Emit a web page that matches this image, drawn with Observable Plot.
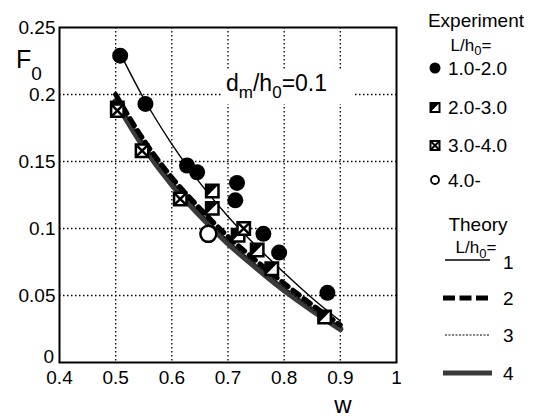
<!DOCTYPE html>
<html><head><meta charset="utf-8">
<script src="https://cdn.jsdelivr.net/npm/d3@7"></script>
<script src="https://cdn.jsdelivr.net/npm/@observablehq/plot@0.6"></script>
<style>body{margin:0;background:#fff;} svg{display:block;}</style>
</head><body><div id="chart"></div>
<script>
// ---- tick values / labels
const xTicks = [0.4, 0.5, 0.6, 0.7, 0.8, 0.9, 1];
const xTickLabels = ["0.4", "0.5", "0.6", "0.7", "0.8", "0.9", "1"];
const yTicks = [0, 0.05, 0.1, 0.15, 0.2, 0.25];
const yTickLabels = ["0", "0.05", "0.1", "0.15", "0.2", "0.25"];
const xGrid = [0.5, 0.6, 0.7, 0.8, 0.9];
const yGrid = [0.05, 0.1, 0.15, 0.2];

// ---- experiment series (w, F0)
const exp12W = [0.508, 0.553, 0.627, 0.645, 0.716, 0.713, 0.763, 0.791, 0.877];
const exp12F = [0.229, 0.193, 0.147, 0.142, 0.134, 0.121, 0.096, 0.082, 0.052];
const exp23W = [0.503, 0.672, 0.672, 0.718, 0.752, 0.778, 0.872];
const exp23F = [0.190, 0.128, 0.115, 0.095, 0.084, 0.070, 0.034];
const exp34W = [0.503, 0.547, 0.615, 0.728];
const exp34F = [0.188, 0.158, 0.122, 0.100];
const exp40W = [0.665];
const exp40F = [0.096];

// ---- theory curves
const thW = [0.5, 0.55, 0.6, 0.65, 0.7, 0.75, 0.8, 0.85, 0.9];
const th1W = [0.51, 0.55, 0.6, 0.65, 0.7, 0.75, 0.8, 0.85, 0.9];
const th1F = [0.229, 0.197, 0.163, 0.134, 0.109, 0.087, 0.067, 0.048, 0.031];
const th2F = [0.200, 0.166, 0.138, 0.115, 0.094, 0.076, 0.059, 0.043, 0.028];
const th3F = [0.197, 0.163, 0.135, 0.112, 0.091, 0.073, 0.056, 0.040, 0.026];
const th4F = [0.195, 0.161, 0.133, 0.110, 0.089, 0.071, 0.054, 0.039, 0.025];

const zip = (W, F) => W.map((w, i) => ({w, f: F[i]}));
const d12 = zip(exp12W, exp12F), d23 = zip(exp23W, exp23F), d34 = zip(exp34W, exp34F), d40 = zip(exp40W, exp40F);
const t1 = zip(th1W, th1F), t2 = zip(thW, th2F), t3 = zip(thW, th3F), t4 = zip(thW, th4F);

// custom symbols
const halfTri = {draw(ctx, size) { const s = Math.sqrt(size) / 2; ctx.moveTo(-s, -s); ctx.lineTo(s, -s); ctx.lineTo(-s, s); ctx.closePath(); }};
const crossX = {draw(ctx, size) { const s = Math.sqrt(size) / 2; ctx.moveTo(-s, -s); ctx.lineTo(s, s); ctx.moveTo(s, -s); ctx.lineTo(-s, s); }};

const font = "'Liberation Sans', Arial, Helvetica, sans-serif";
const plot = Plot.plot({
  width: 536, height: 419,
  marginLeft: 59, marginRight: 140, marginTop: 27, marginBottom: 57,
  style: {fontFamily: font, background: "#fff", color: "#000"},
  x: {domain: [0.4, 1]},
  y: {domain: [0, 0.25]},
  marks: [
    Plot.gridX(xGrid, {stroke: "#000", strokeOpacity: 1, strokeWidth: 1.3, strokeDasharray: "1.5,2.5"}),
    Plot.gridY(yGrid, {stroke: "#000", strokeOpacity: 1, strokeWidth: 1.3, strokeDasharray: "1.5,2.5"}),
    Plot.line(t4, {x: "w", y: "f", curve: "monotone-x", stroke: "#3a3a3a", strokeWidth: 6}),
    Plot.line(t3, {x: "w", y: "f", curve: "monotone-x", stroke: "#000", strokeWidth: 1, strokeDasharray: "2,2"}),
    Plot.line(t2, {x: "w", y: "f", curve: "monotone-x", stroke: "#000", strokeWidth: 5, strokeDasharray: "8,6"}),
    Plot.line(t1, {x: "w", y: "f", curve: "monotone-x", stroke: "#000", strokeWidth: 1.4}),
    Plot.dot(d12, {x: "w", y: "f", r: 8, fill: "#000", stroke: "none"}),
    Plot.dot(d23, {x: "w", y: "f", r: 7, symbol: "square", fill: "#fff", stroke: "#000", strokeWidth: 2.5}),
    Plot.dot(d23, {x: "w", y: "f", r: 7, symbol: halfTri, fill: "#000", stroke: "none"}),
    Plot.dot(d34, {x: "w", y: "f", r: 7, symbol: "square", fill: "#fff", stroke: "#000", strokeWidth: 2.5}),
    Plot.dot(d34, {x: "w", y: "f", r: 7, symbol: crossX, fill: "none", stroke: "#000", strokeWidth: 2.5}),
    Plot.dot(d40, {x: "w", y: "f", r: 8, fill: "#fff", stroke: "#000", strokeWidth: 2.5}),
    Plot.frame({stroke: "#000", strokeWidth: 2}),
    Plot.axisX({ticks: xTicks, tickFormat: (d) => xTickLabels[xTicks.indexOf(d)], tickSize: 0, tickPadding: 8, fontSize: 19, label: null}),
    Plot.axisY({ticks: yTicks.slice(1), tickFormat: (d) => yTickLabels[yTicks.indexOf(d)], tickSize: 0, tickPadding: 4, fontSize: 19, label: null})
  ]
});

const svg = d3.select(plot);
const txt = (x, y, s, opts = {}) => {
  const t = svg.append("text").attr("x", x).attr("y", y).attr("font-family", font)
    .attr("font-size", opts.size || 19).attr("fill", "#000").attr("text-anchor", opts.anchor || "start");
  if (s) t.text(s);
  return t;
};
// zero label on y axis (sits just above the 0.4 label, as in the original)
txt(54, 363, yTickLabels[0], {anchor: "end"});
// axis titles
{
  const t = txt(16, 68, "", {size: 25});
  t.append("tspan").text("F");
  t.append("tspan").attr("font-size", 19).attr("dy", 12).text("0");
}
txt(343, 413, "w", {size: 24, anchor: "middle"});
// annotation with white backing
svg.append("rect").attr("x", 222).attr("y", 70).attr("width", 132).attr("height", 34).attr("fill", "#fff");
{
  const t = txt(226, 91, "", {size: 23});
  t.append("tspan").text("d");
  t.append("tspan").attr("font-size", 17).attr("dy", 7).text("m");
  t.append("tspan").attr("dy", -7).text("/h");
  t.append("tspan").attr("font-size", 17).attr("dy", 7).text("0");
  t.append("tspan").attr("dy", -7).text("=0.1");
}
// experiment legend
txt(476, 27, "Experiment", {anchor: "middle"});
{
  const t = txt(471, 51, "", {size: 17, anchor: "middle"});
  t.append("tspan").text("L/h");
  t.append("tspan").attr("font-size", 13).attr("dy", 4).text("0");
  t.append("tspan").attr("dy", -4).text("=");
}
const g = svg.append("g");
g.append("circle").attr("cx", 435).attr("cy", 68).attr("r", 5.5).attr("fill", "#000");
txt(448, 75, "1.0-2.0");
g.append("rect").attr("x", 430.5).attr("y", 103).attr("width", 9).attr("height", 9).attr("fill", "#fff").attr("stroke", "#000").attr("stroke-width", 2);
g.append("path").attr("d", "M430.5,103L439.5,103L430.5,112Z").attr("fill", "#000");
txt(448, 114, "2.0-3.0");
g.append("rect").attr("x", 430.5).attr("y", 141).attr("width", 9).attr("height", 9).attr("fill", "#fff").attr("stroke", "#000").attr("stroke-width", 2);
g.append("path").attr("d", "M430.5,141L439.5,150M439.5,141L430.5,150").attr("stroke", "#000").attr("stroke-width", 2);
txt(448, 152, "3.0-4.0");
g.append("circle").attr("cx", 435).attr("cy", 180).attr("r", 4).attr("fill", "#fff").attr("stroke", "#000").attr("stroke-width", 1.8);
txt(448, 187, "4.0-");
// theory legend
txt(478, 231, "Theory", {anchor: "middle"});
{
  const t = txt(476, 253, "", {size: 17, anchor: "middle"});
  t.append("tspan").text("L/h");
  t.append("tspan").attr("font-size", 13).attr("dy", 5).text("0");
  t.append("tspan").attr("dy", -5).text("=");
}
g.append("line").attr("x1", 445).attr("x2", 490).attr("y1", 260).attr("y2", 260).attr("stroke", "#000").attr("stroke-width", 1.4);
txt(503, 269, "1");
g.append("line").attr("x1", 443).attr("x2", 490).attr("y1", 298).attr("y2", 298).attr("stroke", "#000").attr("stroke-width", 5).attr("stroke-dasharray", "12,4.5");
txt(503, 305, "2");
g.append("line").attr("x1", 445).attr("x2", 490).attr("y1", 335).attr("y2", 335).attr("stroke", "#000").attr("stroke-width", 1).attr("stroke-dasharray", "2,1.5");
txt(503, 342, "3");
g.append("line").attr("x1", 443).attr("x2", 492).attr("y1", 373).attr("y2", 373).attr("stroke", "#3a3a3a").attr("stroke-width", 5);
txt(503, 380, "4");

document.getElementById("chart").appendChild(plot);
</script>
</body></html>
